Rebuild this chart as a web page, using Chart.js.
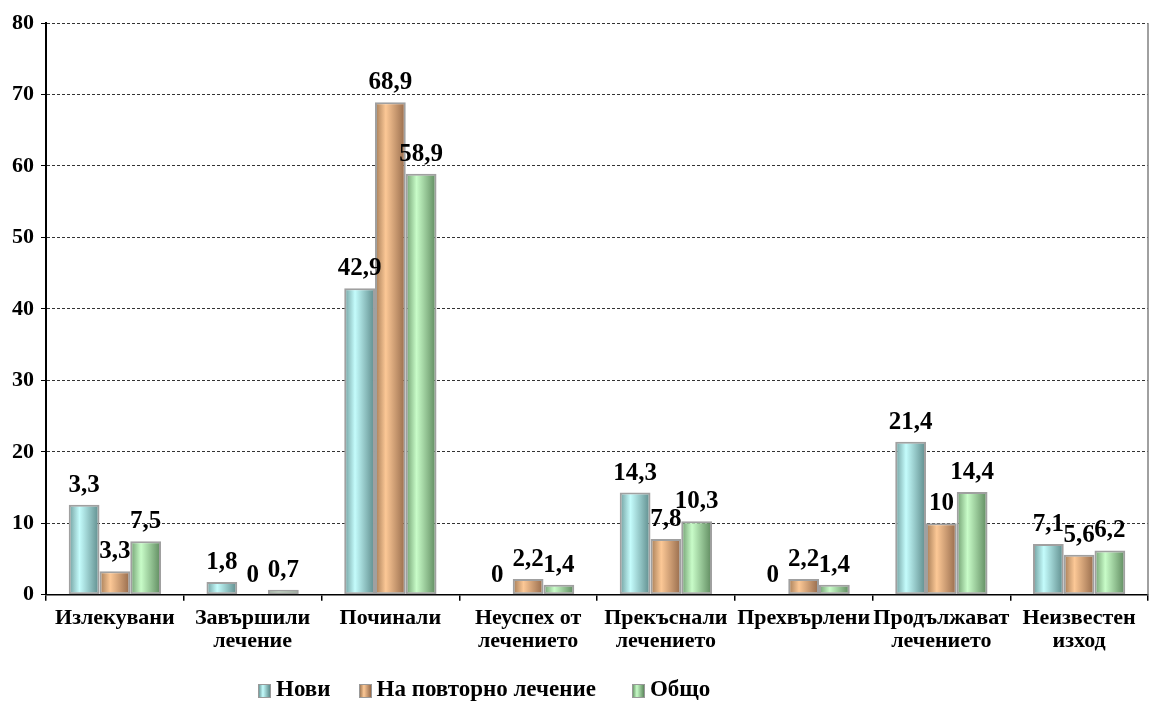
<!DOCTYPE html>
<html>
<head>
<meta charset="utf-8">
<script src="https://cdn.jsdelivr.net/npm/chart.js@4"></script>
<style>
  html, body { margin: 0; padding: 0; background: #fff; }
  #wrap { position: relative; width: 1152px; height: 711px; }
  #legend {
    position: absolute; left: 258px; top: 676px;
    display: flex; align-items: center;
    font: bold 23px "Liberation Serif", "Times New Roman", serif; color: #000;
  }
  #legend .item { display: flex; align-items: center; margin-right: 28px; }
  #legend .item:nth-child(2) { margin-right: 36px; }
  #legend .box { width: 11px; height: 12px; border: 1px solid #999; margin-right: 5px; margin-top: 3px; }
</style>
</head>
<body>
<div id="wrap">
  <canvas id="chart" width="1152" height="711"></canvas>
  <div id="legend"></div>
</div>
<script>
// Категории и серии
const categories = [
    'Излекувани',
    ['Завършили', 'лечение'],
    'Починали',
    ['Неуспех от', 'лечението'],
    ['Прекъснали', 'лечението'],
    'Прехвърлени',
    ['Продължават', 'лечението'],
    ['Неизвестен', 'изход']
];
const seriesNames = ['Нови', 'На повторно лечение', 'Общо'];

// височина на стълбовете (от картинката)
const noviValues = [12.6, 1.8, 42.9, 0, 14.3, 0, 21.4, 7.1];
const povtornoValues = [3.3, 0, 68.9, 2.2, 7.8, 2.2, 10, 5.6];
const obshtoValues = [7.5, 0.7, 58.9, 1.4, 10.3, 1.4, 14.4, 6.2];

// надписите над стълбовете, както са в оригинала
const noviLabels = ['3,3', '1,8', '42,9', '0', '14,3', '0', '21,4', '7,1'];
const povtornoLabels = ['3,3', '0', '68,9', '2,2', '7,8', '2,2', '10', '5,6'];
const obshtoLabels = ['7,5', '0,7', '58,9', '1,4', '10,3', '1,4', '14,4', '6,2'];

const yTicks = [0, 10, 20, 30, 40, 50, 60, 70, 80];

const FONT = '"Liberation Serif", "Times New Roman", serif';
const CAT_PCT = 0.67;

// цветове: ляв ръб, светла среда, десен ръб
const colorStops = [
    ['#6f9c9c', '#c4fcfc', '#5d8a8a'],
    ['#a27a55', '#fcc896', '#94694a'],
    ['#6f9c6f', '#c8fcc8', '#5d885d']
];

function barFill(stops) {
    return function(c) {
        const chart = c.chart;
        const xs = chart.scales.x;
        if (!xs || c.type !== 'data' || !xs.width) return stops[1];
        const barW = xs.width / categories.length * CAT_PCT / 3;
        const left = xs.getPixelForValue(c.dataIndex) - 1.5 * barW + c.datasetIndex * barW;
        const g = chart.ctx.createLinearGradient(left, 0, left + barW, 0);
        g.addColorStop(0, stops[0]);
        g.addColorStop(0.35, stops[1]);
        g.addColorStop(1, stops[2]);
        return g;
    };
}

const valueLabels = [noviLabels, povtornoLabels, obshtoLabels];

const labelPlugin = {
    id: 'valueLabels',
    afterDatasetsDraw(chart) {
        const ctx = chart.ctx;
        ctx.save();
        ctx.font = 'bold 25px ' + FONT;
        ctx.fillStyle = '#000';
        ctx.textAlign = 'center';
        ctx.textBaseline = 'bottom';
        chart.data.datasets.forEach(function(ds, i) {
            chart.getDatasetMeta(i).data.forEach(function(el, j) {
                ctx.fillText(valueLabels[i][j], el.x, el.y - 7);
            });
        });
        ctx.restore();
    }
};

const rightBorder = {
    id: 'rightBorder',
    afterDraw(chart) {
        const a = chart.chartArea;
        const ctx = chart.ctx;
        ctx.save();
        ctx.strokeStyle = '#808080';
        ctx.lineWidth = 1.5;
        ctx.beginPath();
        ctx.moveTo(a.right, a.top);
        ctx.lineTo(a.right, a.bottom);
        ctx.stroke();
        ctx.restore();
    }
};

const data = {
    labels: categories,
    datasets: [noviValues, povtornoValues, obshtoValues].map(function(vals, i) {
        return {
            label: seriesNames[i],
            data: vals,
            backgroundColor: barFill(colorStops[i]),
            borderColor: '#a0a0a0',
            borderWidth: 2,
            borderSkipped: false,
            barPercentage: 1,
            categoryPercentage: CAT_PCT
        };
    })
};

new Chart(document.getElementById('chart'), {
    type: 'bar',
    data: data,
    options: {
        responsive: false,
        animation: false,
        layout: { padding: { left: 5, top: 23, right: 4, bottom: 52 } },
        plugins: {
            legend: { display: false },
            tooltip: { enabled: false }
        },
        scales: {
            x: {
                grid: { drawOnChartArea: false, tickLength: 6, color: '#000', lineWidth: 1.5 },
                border: { color: '#000', width: 1.5 },
                ticks: {
                    color: '#000',
                    maxRotation: 0,
                    autoSkip: false,
                    padding: 6,
                    font: { family: FONT, size: 22, weight: 'bold', lineHeight: 1.05 }
                }
            },
            y: {
                min: 0,
                max: 80,
                afterBuildTicks: function(axis) {
                    axis.ticks = yTicks.map(function(v) { return { value: v }; });
                },
                grid: { color: '#333', lineWidth: 1, tickLength: 5, tickColor: '#000' },
                border: { color: '#000', width: 2, dash: [3, 2] },
                ticks: {
                    color: '#000',
                    padding: 7,
                    font: { family: FONT, size: 22, weight: 'bold' }
                }
            }
        }
    },
    plugins: [labelPlugin, rightBorder]
});

// легенда
const legend = document.getElementById('legend');
seriesNames.forEach(function(name, i) {
    const s = colorStops[i];
    const item = document.createElement('div');
    item.className = 'item';
    const box = document.createElement('span');
    box.className = 'box';
    box.style.background = 'linear-gradient(to right,' + s[0] + ',' + s[1] + ' 35%,' + s[2] + ')';
    const txt = document.createElement('span');
    txt.textContent = name;
    item.appendChild(box);
    item.appendChild(txt);
    legend.appendChild(item);
});
</script>
</body>
</html>
